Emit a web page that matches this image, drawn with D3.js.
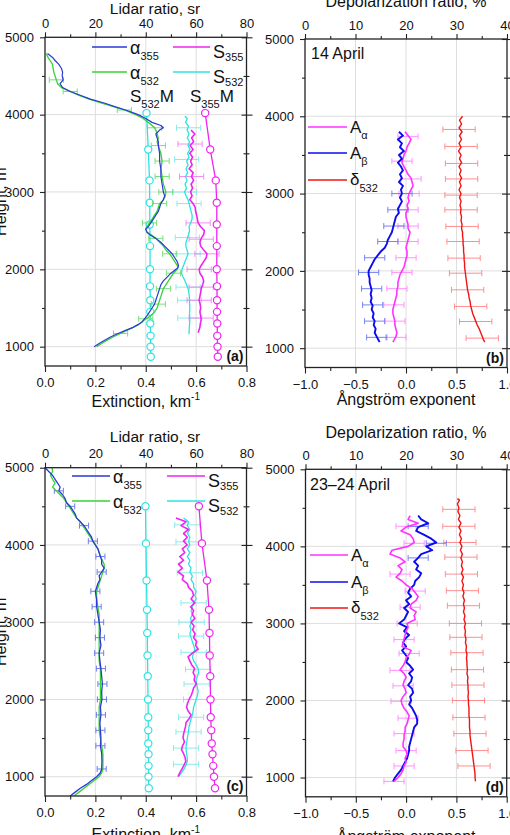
<!DOCTYPE html>
<html><head><meta charset="utf-8">
<script src="https://cdn.jsdelivr.net/npm/d3@7"></script>
<style>
html,body{margin:0;padding:0;background:#fff;overflow:hidden;}
svg{display:block;}
</style></head><body>
<script>
// ---------------- shared axes ----------------
const heightDomain = [750, 5000];
const heightTicks = [1000, 2000, 3000, 4000, 5000];
const heightMinor = [1500, 2500, 3500, 4500];
const extTicks = [0.0, 0.2, 0.4, 0.6, 0.8];
const extMinor = [0.1, 0.3, 0.5, 0.7];
const lrTicks = [0, 20, 40, 60, 80];
const lrMinor = [10, 30, 50, 70];
const angTicks = [-1.0, -0.5, 0.0, 0.5, 1.0];
const angMinor = [-0.75, -0.25, 0.25, 0.75];
const depTicks = [0, 10, 20, 30, 40];
const depMinor = [5, 15, 25, 35];

// ---------------- panel (a): 14 April ----------------
const hAlphaA = [4790,4740,4700,4650,4600,4550,4500,4450,4400,4350,4300,4250,4200,4150,4100,4060,4000,3950,3900,3860,3830,3800,3750,3700,3650,3600,3500,3400,3300,3200,3100,3000,2950,2900,2850,2800,2750,2700,2650,2600,2550,2520,2480,2450,2400,2350,2300,2250,2200,2150,2100,2050,2025,2000,1950,1900,1850,1800,1750,1700,1650,1600,1550,1500,1450,1400,1360,1320,1285,1250,1210,1170,1125,1080,1040,1000];
const alpha355A = [0.01,0.03,0.04,0.055,0.065,0.07,0.068,0.072,0.06,0.07,
 0.10,0.14,0.18,0.235,0.28,0.32,0.37,0.40,0.425,0.46,
 0.47,0.455,0.44,0.445,0.45,0.45,0.455,0.455,0.46,0.46,
 0.465,0.47,0.475,0.47,0.46,0.455,0.45,0.44,0.43,0.42,
 0.41,0.40,0.405,0.415,0.44,0.46,0.475,0.49,0.505,0.515,
 0.525,0.53,0.528,0.52,0.50,0.485,0.47,0.46,0.455,0.45,
 0.445,0.44,0.435,0.425,0.415,0.405,0.395,0.385,0.37,0.35,
 0.32,0.29,0.26,0.235,0.215,0.195];
const alpha532A = [0.005,0.012,0.02,0.03,0.032,0.035,0.04,0.045,0.05,0.065,
 0.10,0.135,0.175,0.225,0.275,0.315,0.36,0.39,0.41,0.425,
 0.435,0.44,0.445,0.45,0.445,0.45,0.46,0.465,0.46,0.465,
 0.47,0.48,0.478,0.47,0.455,0.45,0.445,0.435,0.425,0.415,
 0.405,0.40,0.405,0.42,0.44,0.455,0.47,0.48,0.495,0.505,
 0.515,0.525,0.528,0.525,0.51,0.50,0.49,0.48,0.47,0.465,
 0.46,0.455,0.45,0.445,0.435,0.42,0.40,0.385,0.37,0.35,
 0.325,0.30,0.27,0.245,0.225,0.205];
const hErrAlpha532A = [4450,4300,4060,3830,3600,3400,3200,3000,2850,2600,2400,2200,1950,1750,1550,1360,1170];
const errAlpha532A = 0.028;

const hS355A = [3800,3750,3700,3650,3600,3550,3500,3450,3400,3350,3300,3250,3200,3150,3100,3050,3000,2950,2900,2850,2800,2750,2700,2650,2600,2550,2500,2450,2400,2350,2300,2250,2200,2150,2100,2050,2000,1950,1900,1850,1800,1750,1700,1650,1600,1550,1500,1450,1400,1350,1300,1250,1200,1180];
const S355A = [58,59.5,58.2,59,57.6,58.8,57.5,58.6,57.8,58.4,
 57.2,58.8,58.2,59,58,58.6,57.8,58.4,57.5,58.8,
 59.6,59.8,60.2,60.5,60.8,61.8,63.3,63,62,61.5,
 61.8,63,64.3,64,63,62,61.2,61.5,62.5,63,
 62.6,62,61.8,61.5,61.2,61.6,61.8,61.5,61.8,62,
 61.7,61.5,61,60.8];
const hS532A = [3980,3950,3900,3850,3800,3750,3700,3650,3600,3550,3500,3450,3400,3350,3300,3250,3200,3150,3100,3050,3000,2950,2900,2850,2800,2750,2700,2650,2600,2550,2500,2450,2400,2350,2300,2250,2200,2150,2100,2050,2000,1950,1900,1850,1800,1750,1700,1650,1600,1550,1500,1450,1400,1350,1300,1250,1200,1160];
const S532A = [55.5,56.5,55.8,57,56.4,57.2,56.5,57.4,56.8,57.6,56.6,
 57.2,56.2,56.8,56,56.6,55.8,56.4,55.6,56.2,55.4,
 56,56.8,57.2,57.6,58,58.4,58.4,57.8,57.2,57.4,
 57,56.5,56,55.9,56.4,56.8,56.2,55.6,55,54.4,
 54.2,54.8,55.6,56.2,56.8,57.1,57.3,57.4,57.4,57.5,
 57.4,57.4,57.5,57.4,57.3,57.2,57.2];
const hErrS532A = [3830,3420,3000,2850,2410,2200,1770,1600,1370];
const hErrS355A = [3620,3200,2600,2390,2200,2000,1770,1600,1370];
const errSA = 4.8;
const hModelA = [4020,3550,3150,2860,2580,2300,2000,1780,1600,1450,1300,1140,1000,870];
const S532MA = [40.3,41,41.5,41.6,41.6,41.7,41.7,41.7,41.8,41.8,41.8,41.9,41.9,42];
const S355MA = [63.6,65.6,67.8,68.2,68.2,68.2,68.2,68.3,68.3,68.3,68.4,68.4,68.5,68.6];

// ---------------- panel (b): 14 April ----------------
const hAB = [3800,3750,3700,3650,3600,3550,3500,3450,3400,3350,3300,3250,3200,3150,3100,3050,3000,2950,2900,2850,2800,2750,2700,2650,2600,2550,2500,2450,2400,2350,2300,2250,2200,2150,2100,2050,2000,1950,1900,1850,1800,1750,1700,1650,1600,1550,1500,1450,1400,1350,1300,1250,1200,1150,1100,1080];
const ABetaB = [-0.07,-0.03,-0.08,-0.04,-0.06,-0.02,-0.07,-0.04,-0.08,-0.05,
 -0.03,-0.06,-0.04,-0.07,-0.03,-0.05,-0.04,-0.06,-0.04,-0.06,
 -0.08,-0.07,-0.10,-0.11,-0.12,-0.13,-0.14,-0.16,-0.18,-0.19,
 -0.21,-0.25,-0.28,-0.31,-0.33,-0.35,-0.37,-0.37,-0.36,-0.36,
 -0.35,-0.34,-0.35,-0.34,-0.35,-0.33,-0.34,-0.32,-0.33,-0.31,
 -0.32,-0.30,-0.31,-0.29,-0.27,-0.26];
const AAlphaB = [-0.01,0.02,0.05,0.03,0.01,0.0,-0.02,-0.03,-0.04,-0.02,
 0.0,0.02,0.05,0.06,0.07,0.05,0.03,0.02,0.03,0.01,
 0.02,0.0,0.0,0.01,0.02,0.02,0.04,0.03,0.02,0.01,
 0.0,0.01,0.01,0.0,-0.01,-0.02,-0.04,-0.06,-0.07,-0.08,
 -0.08,-0.09,-0.09,-0.10,-0.11,-0.12,-0.13,-0.13,-0.12,-0.11,
 -0.11,-0.10,-0.09,-0.10,-0.12,-0.13];
const hDepB = [4000,3950,3900,3850,3800,3750,3700,3650,3600,3550,3500,3450,3400,3350,3300,3250,3200,3150,3100,3050,3000,2950,2900,2850,2800,2750,2700,2650,2600,2550,2500,2450,2400,2350,2300,2250,2200,2150,2100,2050,2000,1950,1900,1850,1800,1750,1700,1650,1600,1550,1500,1450,1400,1350,1300,1250,1200,1150,1100,1080];
const DepB = [31.2,30.6,31.0,30.5,31.1,30.6,31.0,30.5,30.9,30.4,
 30.9,30.6,31.0,30.5,30.9,30.6,31.0,30.6,30.9,30.5,
 30.9,30.6,30.9,30.7,30.9,30.8,31.0,30.9,31.1,31.0,
 31.2,31.2,31.3,31.3,31.4,31.4,31.5,31.5,31.6,31.6,
 31.7,31.8,31.9,32.0,32.1,32.2,32.4,32.5,32.7,32.8,
 33.0,33.2,33.5,33.8,34.1,34.5,34.8,35.1,35.4,35.6];
const hErrDepB = [3830,3610,3390,3190,2980,2790,2575,2380,2165,1970,1755,1540,1345,1130];
const errDep = 3.2;
const hErrABetaB = [3000,2790,2580,2380,2170,1980,1770,1560,1350,1140];
const hErrAAlphaB = [3740,3420,3190,3000,2790,2580,2380,2170,1980,1770,1560,1350,1140];
const errAng = 0.1;

// ---------------- panel (c): 23-24 April ----------------
const hAlphaC = [5000,4950,4900,4850,4800,4750,4700,4650,4600,4550,4500,4450,4400,4350,4300,4250,4200,4150,4100,4050,4000,3950,3900,3850,3800,3750,3700,3650,3600,3550,3500,3450,3400,3350,3300,3200,3100,3000,2900,2800,2700,2600,2500,2400,2300,2200,2100,2000,1900,1800,1700,1600,1500,1400,1300,1200,1100,1050,1000,950,900,850,800,750];
const alpha355C = [0.0,0.015,0.03,0.04,0.05,0.06,0.055,0.07,0.08,0.085,
 0.10,0.11,0.12,0.125,0.14,0.155,0.165,0.175,0.185,0.19,
 0.20,0.21,0.215,0.22,0.225,0.225,0.235,0.225,0.215,0.218,
 0.21,0.205,0.20,0.202,0.205,0.205,0.21,0.215,0.22,0.218,
 0.222,0.215,0.218,0.222,0.225,0.228,0.225,0.226,0.22,0.222,
 0.218,0.22,0.222,0.22,0.225,0.226,0.225,0.22,0.205,0.185,
 0.165,0.14,0.12,0.10];
const alpha532C = [0.028,0.03,0.022,0.03,0.04,0.03,0.045,0.06,0.075,0.085,
 0.095,0.105,0.115,0.125,0.14,0.15,0.16,0.17,0.18,0.19,
 0.20,0.21,0.215,0.22,0.228,0.235,0.235,0.23,0.225,0.22,
 0.215,0.21,0.205,0.205,0.205,0.21,0.215,0.215,0.215,0.215,
 0.215,0.215,0.215,0.22,0.22,0.22,0.22,0.22,0.215,0.215,
 0.215,0.215,0.22,0.225,0.23,0.23,0.23,0.225,0.215,0.195,
 0.175,0.155,0.135,0.115];
const hErrAlpha355C = [4700,4500,4250,4050,3850,3650,3400,3200,3000,2800,2600,2400,2200,2000,1800,1600,1400,1100];
const errAlphaC = 0.018;
const hSC = [4350,4300,4250,4200,4150,4100,4050,4000,3950,3900,3850,3800,3750,3700,3650,3600,3550,3500,3450,3400,3350,3300,3250,3200,3150,3100,3050,3000,2950,2900,2850,2800,2750,2700,2650,2600,2550,2500,2450,2400,2350,2300,2250,2200,2150,2100,2050,2000,1950,1900,1850,1800,1750,1700,1650,1600,1550,1500,1450,1400,1350,1300,1250,1200,1150,1100,1050,1000];
const S355C = [52,56,54,57,55,56.5,55,56.5,54.5,55.5,
 53.5,55,53,54.5,52.8,55,54.5,56.5,57,58.5,
 59,58,59.5,57.8,59,58.5,59.5,58,59.2,58.6,
 59.6,59,60.2,59.8,60.8,58.5,56.8,57.5,58.2,59.4,
 58.8,59.5,59.2,60.1,59,58.6,58,57.2,56.6,56.2,
 56.8,58,57.2,56,55.8,55.4,55,54.8,55.4,54.6,
 54.2,55,55.6,55.9,55.2,54.4,53.5,52.8];
const S532C = [55,57,56.5,57.5,56.5,57.5,57,57.5,56.5,57.5,
 56.5,57.5,57,58,57.5,58.5,58,59,59,60,
 59.5,60,59,58.5,58,58.5,57.8,58.2,57.5,58,
 57.5,58,58.5,59,59.5,59,58.5,59,60,60.8,
 61,60.5,60,60.2,60.5,60.8,60.5,60,59.5,59,
 58.8,58.5,58,57.6,57.2,57,56.8,56.5,56.3,56,
 56,56.2,56.5,56.5,56,55.2,54.2,53];
const hErrS532C = [4260,4040,3640,3250,3000,2820,2610,2390,2200,2000,1770,1580,1370,1160];
const errSC = 5;
const hModelC = [4500,4020,3540,3160,2860,2570,2300,2000,1770,1600,1430,1290,1140,1000,850];
const S532MC = [39.9,40.1,40.3,40.5,40.6,40.7,40.8,40.9,41,41,41,41.1,41.1,41.1,41.2];
const S355MC = [61.1,62.3,64.3,65.1,65.3,65.4,65.6,65.7,65.8,66,66.2,66.5,66.8,67.1,67.5];

// ---------------- panel (d): 23-24 April ----------------
const hAD = [4400,4350,4300,4250,4200,4150,4100,4050,4000,3950,3900,3850,3800,3750,3700,3650,3600,3550,3500,3450,3400,3350,3300,3250,3200,3150,3100,3050,3000,2950,2900,2850,2800,2750,2700,2650,2600,2550,2500,2450,2400,2350,2300,2250,2200,2150,2100,2050,2000,1950,1900,1850,1800,1750,1700,1650,1600,1550,1500,1450,1400,1350,1300,1250,1200,1150,1100,1050,1000,950];
const ABetaD = [0.12,0.15,0.22,0.12,0.10,0.18,0.25,0.30,0.20,0.26,
 0.15,0.12,0.08,0.12,0.10,0.15,0.13,0.09,0.08,0.04,
 0.02,0.05,0.0,0.03,-0.02,0.02,0.0,-0.02,-0.07,0.01,
 -0.02,0.03,-0.01,-0.03,0.0,-0.04,-0.01,0.02,0.0,0.04,
 0.07,0.03,0.06,0.05,0.02,0.06,0.07,0.04,0.05,0.03,
 0.06,0.08,0.10,0.11,0.11,0.08,0.07,0.06,0.05,0.04,
 0.03,0.03,0.02,0.01,-0.01,-0.03,-0.05,-0.08,-0.11,-0.13];
const AAlphaD = [0.04,0.02,0.12,0.0,-0.05,0.04,0.07,0.08,0.02,-0.14,
 -0.16,-0.06,-0.01,-0.08,-0.04,-0.06,-0.10,-0.04,0.0,0.06,
 0.09,0.12,0.10,0.05,0.04,0.10,0.08,0.09,0.01,0.02,
 0.0,-0.01,-0.02,-0.03,-0.04,0.05,0.03,0.0,-0.01,-0.03,
 -0.06,-0.02,0.0,-0.02,-0.03,-0.01,0.0,-0.03,-0.05,-0.04,
 -0.02,0.01,0.03,0.02,0.01,-0.01,-0.01,-0.02,-0.02,-0.03,
 -0.03,0.0,0.01,-0.01,0.0,-0.02,-0.03,-0.05,-0.08,-0.12];
const hDepD = [4620,4600,4550,4500,4450,4400,4350,4300,4250,4200,4150,4100,4050,4000,3950,3900,3850,3800,3750,3700,3650,3600,3550,3500,3450,3400,3350,3300,3250,3200,3150,3100,3050,3000,2950,2900,2850,2800,2750,2700,2650,2600,2550,2500,2450,2400,2350,2300,2250,2200,2150,2100,2050,2000,1950,1900,1850,1800,1750,1700,1650,1600,1550,1500,1450,1400,1350,1300,1250,1200,1150,1100,1050,1000,950];
const DepD = [30.2,
 30.6,30.2,30.5,30.3,30.7,30.4,30.9,30.5,30.9,30.6,
 31.0,30.7,31.1,30.8,31.2,30.9,31.2,31.0,31.3,31.0,
 31.4,31.1,31.4,31.2,31.5,31.3,31.6,31.4,31.6,31.4,
 31.7,31.5,31.8,31.6,31.8,31.7,31.9,31.8,32.0,31.9,
 32.1,32.0,32.1,32.1,32.2,32.1,32.3,32.2,32.3,32.3,
 32.4,32.3,32.4,32.4,32.5,32.5,32.5,32.6,32.6,32.6,
 32.7,32.7,32.8,32.9,33.0,33.1,33.2,33.3,33.4,33.5,
 33.6,33.7,33.7,33.8];
const hErrDepD = [4480,4260,4050,3860,3640,3425,3230,3000,2820,2620,2400,2200,2000,1780,1570,1350,1150];
const hErrAAlphaD = [4260,4040,3640,3420,3210,3000,2790,2610,2390,2190,1990,1770,1570,1350,1150,950];
const hErrABetaD = [4260,4040,3850];

// ---------------- drawing ----------------
const FONT = '"Liberation Sans", Arial, Helvetica, sans-serif';
const C = {
  b355: "#2a3ad2", g532: "#36d336", m355: "#f024f0", c532: "#2ee2e2",
  Aa: "#ff33ff", Ab: "#0c0cf0", red: "#f01414",
  eb355: "#5a68e6", eg532: "#66d966", em355: "#f27af2", ec532: "#77e8e8",
  eAa: "#ff80ff", eAb: "#6070f0", ered: "#ff7c7c"
};
const svg = d3.select("body").append("svg").attr("width", 510).attr("height", 835)
  .style("font-family", FONT);

function nearestVal(hs, vs, h) {
  let bi = 0;
  for (let i = 1; i < hs.length; i++) if (Math.abs(hs[i] - h) < Math.abs(hs[bi] - h)) bi = i;
  return vs[bi];
}

function styleAxis(sel) {
  sel.select(".domain").remove();
  sel.selectAll("line").attr("stroke", "#222").attr("stroke-width", 1.1);
  sel.selectAll("text").attr("font-family", FONT).attr("font-size", 13).attr("fill", "#111");
}

function setupPanel(cfg) {
  const x = d3.scaleLinear().domain(cfg.xDom).range([cfg.l, cfg.r]);
  const x2 = d3.scaleLinear().domain(cfg.x2Dom).range([cfg.l, cfg.r]);
  const y = d3.scaleLinear().domain(heightDomain).range([cfg.b, cfg.t]);
  const grid = svg.append("g").attr("stroke", "#dedede").attr("stroke-width", 1);
  grid.selectAll("line.gx").data(cfg.xTicks.slice(1, -1)).join("line").attr("class", "gx")
    .attr("x1", d => x(d)).attr("x2", d => x(d)).attr("y1", cfg.t).attr("y2", cfg.b);
  grid.selectAll("line.gy").data(heightTicks.slice(0, -1)).join("line").attr("class", "gy")
    .attr("y1", d => y(d)).attr("y2", d => y(d)).attr("x1", cfg.l).attr("x2", cfg.r);
  const cid = "clip" + cfg.id;
  svg.append("clipPath").attr("id", cid).append("rect")
    .attr("x", cfg.l).attr("y", cfg.t).attr("width", cfg.r - cfg.l).attr("height", cfg.b - cfg.t);
  const plot = svg.append("g").attr("clip-path", `url(#${cid})`);
  return { cfg, x, x2, y, plot };
}

function drawAxes(P) {
  const { cfg, x, x2, y } = P;
  const none = () => "";
  svg.append("g").attr("transform", `translate(0,${cfg.b})`)
    .call(d3.axisBottom(x).tickValues(cfg.xTicks).tickFormat(d3.format(".1f")).tickSize(6).tickPadding(6)).call(styleAxis);
  svg.append("g").attr("transform", `translate(0,${cfg.b})`)
    .call(d3.axisBottom(x).tickValues(cfg.xMinor).tickFormat(none).tickSize(3.5)).call(styleAxis);
  svg.append("g").attr("transform", `translate(0,${cfg.t})`)
    .call(d3.axisTop(x2).tickValues(cfg.x2Ticks).tickFormat(d3.format("d")).tickSize(5).tickPadding(4.5)).call(styleAxis);
  svg.append("g").attr("transform", `translate(0,${cfg.t})`)
    .call(d3.axisTop(x2).tickValues(cfg.x2Minor).tickFormat(none).tickSize(3)).call(styleAxis);
  svg.append("g").attr("transform", `translate(${cfg.l},0)`)
    .call(d3.axisLeft(y).tickValues(heightTicks).tickFormat(d3.format("d")).tickSize(5).tickPadding(6)).call(styleAxis);
  svg.append("g").attr("transform", `translate(${cfg.l},0)`)
    .call(d3.axisLeft(y).tickValues(heightMinor).tickFormat(none).tickSize(3)).call(styleAxis);
  svg.append("g").attr("transform", `translate(${cfg.r},0)`)
    .call(d3.axisRight(y).tickValues(heightTicks).tickFormat(none).tickSize(6)).call(styleAxis);
  svg.append("g").attr("transform", `translate(${cfg.r},0)`)
    .call(d3.axisLeft(y).tickValues(heightTicks).tickFormat(none).tickSize(5)).call(styleAxis);
  svg.append("g").attr("transform", `translate(${cfg.r},0)`)
    .call(d3.axisRight(y).tickValues(heightMinor).tickFormat(none).tickSize(3)).call(styleAxis);
  svg.append("g").attr("transform", `translate(${cfg.r},0)`)
    .call(d3.axisLeft(y).tickValues(heightMinor).tickFormat(none).tickSize(3)).call(styleAxis);
  svg.append("rect").attr("x", cfg.l).attr("y", cfg.t).attr("width", cfg.r - cfg.l).attr("height", cfg.b - cfg.t)
    .attr("fill", "none").attr("stroke", "#222").attr("stroke-width", 1.3);
  // titles
  svg.append("text").attr("x", cfg.topTitleX).attr("y", cfg.t - cfg.topTitleOff).attr("text-anchor", "middle")
    .attr("font-size", cfg.topTitleSize || 16).attr("fill", "#111").text(cfg.topTitle);
  const bt = svg.append("text").attr("x", (cfg.l + cfg.r) / 2).attr("y", cfg.b + cfg.botTitleOff)
    .attr("text-anchor", "middle").attr("font-size", 16).attr("fill", "#111");
  bt.append("tspan").text(cfg.botTitle);
  if (cfg.botSup) bt.append("tspan").attr("font-size", 10).attr("dy", -7).text(cfg.botSup);
  if (cfg.yTitle) {
    svg.append("text").attr("transform", `translate(6,${(cfg.t + cfg.b) / 2}) rotate(-90)`)
      .attr("text-anchor", "middle").attr("font-size", 16).attr("fill", "#111").text(cfg.yTitle);
  }
  svg.append("text").attr("x", cfg.r - 3).attr("y", cfg.b - 5).attr("text-anchor", "end")
    .attr("font-size", 14).attr("font-weight", "bold").attr("fill", "#111").text(cfg.tag);
}

function drawLine(P, hs, vs, xs, color, w) {
  P.plot.append("path").datum(hs.map((h, i) => [vs[i], h]))
    .attr("d", d3.line().x(d => xs(d[0])).y(d => P.y(d[1])))
    .attr("fill", "none").attr("stroke", color).attr("stroke-width", w).attr("stroke-linejoin", "round");
}
function drawErr(P, hErr, hs, vs, half, xs, color) {
  const data = hErr.map(h => ({ h, v: nearestVal(hs, vs, h) }));
  const g = P.plot.append("g").attr("stroke", color).attr("stroke-width", 1).attr("opacity", 0.85);
  g.selectAll("line.h").data(data).join("line").attr("class", "h")
    .attr("x1", d => xs(d.v - half)).attr("x2", d => xs(d.v + half)).attr("y1", d => P.y(d.h)).attr("y2", d => P.y(d.h));
  g.selectAll("line.l").data(data).join("line").attr("class", "l")
    .attr("x1", d => xs(d.v - half)).attr("x2", d => xs(d.v - half)).attr("y1", d => P.y(d.h) - 3).attr("y2", d => P.y(d.h) + 3);
  g.selectAll("line.r").data(data).join("line").attr("class", "r")
    .attr("x1", d => xs(d.v + half)).attr("x2", d => xs(d.v + half)).attr("y1", d => P.y(d.h) - 3).attr("y2", d => P.y(d.h) + 3);
}
function drawModel(P, hs, vs, xs, color) {
  drawLine(P, hs, vs, xs, color, 1.3);
  P.plot.append("g").selectAll("circle").data(hs.map((h, i) => [vs[i], h])).join("circle")
    .attr("cx", d => xs(d[0])).attr("cy", d => P.y(d[1])).attr("r", 3.6)
    .attr("fill", "#fff").attr("stroke", color).attr("stroke-width", 1.2);
}
function legend(x1, x2, y, color, parts, w) {
  svg.append("line").attr("x1", x1).attr("x2", x2).attr("y1", y).attr("y2", y)
    .attr("stroke", color).attr("stroke-width", w || 1.3);
  const t = svg.append("text").attr("x", x2 + 3).attr("y", y).attr("fill", "#111");
  parts.forEach(p => t.append("tspan").attr("y", y + p[2]).attr("font-size", p[1]).text(p[0]));
}
function label(x, y, parts) {
  const t = svg.append("text").attr("x", x).attr("y", y).attr("fill", "#111");
  parts.forEach(p => t.append("tspan").attr("y", y + p[2]).attr("font-size", p[1]).text(p[0]));
}

// ---------- Panel (a) ----------
const A = setupPanel({ id: "a", l: 45, r: 246.5, t: 37.3, b: 366, xDom: [0, 0.8], x2Dom: [0, 80],
  xTicks: extTicks, xMinor: extMinor, x2Ticks: lrTicks, x2Minor: lrMinor });
drawModel(A, hModelA, S532MA, A.x2, C.c532);
drawErr(A, hErrS532A, hS532A, S532A, errSA, A.x2, C.ec532);
drawErr(A, hErrS355A, hS355A, S355A, errSA, A.x2, C.em355);
drawLine(A, hS532A, S532A, A.x2, C.c532, 1.3);
drawLine(A, hS355A, S355A, A.x2, C.m355, 1.6);
drawModel(A, hModelA, S355MA, A.x2, C.m355);
drawErr(A, hErrAlpha532A, hAlphaA, alpha532A, errAlpha532A, A.x, C.eg532);
drawLine(A, hAlphaA, alpha532A, A.x, C.g532, 1.3);
drawLine(A, hAlphaA, alpha355A, A.x, C.b355, 1.2);
drawAxes(Object.assign(A, { cfg: Object.assign(A.cfg, {
  topTitle: "Lidar ratio, sr", topTitleX: 155, topTitleOff: 23.8, topTitleSize: 15.5, botTitle: "Extinction, km", botSup: "-1",
  botTitleOff: 41, yTitle: "Height, m", tag: "(a)" }) }));
legend(92, 127, 47, C.b355, [["α", 18, 7], ["355", 11, 13]]);
legend(92, 127, 72, C.g532, [["α", 18, 7], ["532", 11, 13]]);
legend(173, 210, 47, C.m355, [["S", 18, 11], ["355", 11, 14]]);
legend(173, 210, 72, C.c532, [["S", 18, 11], ["532", 11, 14]]);
label(130, 101.5, [["S", 17, 0], ["532", 11, 6], ["M", 17, 0]]);
label(190, 101.5, [["S", 17, 0], ["355", 11, 6], ["M", 17, 0]]);

// ---------- Panel (b) ----------
const B = setupPanel({ id: "b", l: 305, r: 507, t: 39, b: 367.5, xDom: [-1, 1], x2Dom: [0, 40],
  xTicks: angTicks, xMinor: angMinor, x2Ticks: depTicks, x2Minor: depMinor });
drawErr(B, hErrDepB, hDepB, DepB, errDep, B.x2, C.ered);
drawErr(B, hErrAAlphaB, hAB, AAlphaB, errAng, B.x, C.eAa);
drawErr(B, hErrABetaB, hAB, ABetaB, errAng, B.x, C.eAb);
drawLine(B, hDepB, DepB, B.x2, C.red, 1.4);
drawLine(B, hAB, AAlphaB, B.x, C.Aa, 1.6);
drawLine(B, hAB, ABetaB, B.x, C.Ab, 1.9);
drawAxes(Object.assign(B, { cfg: Object.assign(B.cfg, {
  topTitle: "Depolarization ratio, %", topTitleX: 406, topTitleOff: 32, botTitle: "Ångström exponent",
  botTitleOff: 37, tag: "(b)" }) }));
svg.append("text").attr("x", 311).attr("y", 58.5).attr("font-size", 16).attr("fill", "#111").text("14 April");
legend(308, 347, 127, C.Aa, [["A", 17, 6], ["α", 11, 11.5]], 1.6);
legend(308, 347, 153, C.Ab, [["A", 17, 6], ["β", 11, 11.5]], 1.6);
legend(308, 347, 180, C.red, [["δ", 17, 5], ["532", 11, 12]], 1.6);

// ---------- Panel (c) ----------
const Cc = setupPanel({ id: "c", l: 45, r: 246.5, t: 467.7, b: 796, xDom: [0, 0.8], x2Dom: [0, 80],
  xTicks: extTicks, xMinor: extMinor, x2Ticks: lrTicks, x2Minor: lrMinor });
drawModel(Cc, hModelC, S532MC, Cc.x2, C.c532);
drawErr(Cc, hErrS532C, hSC, S532C, errSC, Cc.x2, C.ec532);
drawLine(Cc, hSC, S532C, Cc.x2, C.c532, 1.3);
drawLine(Cc, hSC, S355C, Cc.x2, C.m355, 1.6);
drawModel(Cc, hModelC, S355MC, Cc.x2, C.m355);
drawErr(Cc, hErrAlpha355C, hAlphaC, alpha355C, errAlphaC, Cc.x, C.eb355);
drawLine(Cc, hAlphaC, alpha532C, Cc.x, C.g532, 1.3);
drawLine(Cc, hAlphaC, alpha355C, Cc.x, C.b355, 1.3);
drawAxes(Object.assign(Cc, { cfg: Object.assign(Cc.cfg, {
  topTitle: "Lidar ratio, sr", topTitleX: 155, topTitleOff: 25.5, topTitleSize: 15.5, botTitle: "Extinction, km", botSup: "-1",
  botTitleOff: 43.5, yTitle: "Height, m", tag: "(c)" }) }));
legend(72, 110, 476, C.b355, [["α", 18, 7], ["355", 11, 13]]);
legend(72, 110, 501, C.g532, [["α", 18, 7], ["532", 11, 13]]);
legend(167, 205, 476, C.m355, [["S", 18, 11], ["355", 11, 14]]);
legend(167, 205, 501, C.c532, [["S", 18, 11], ["532", 11, 14]]);

// ---------- Panel (d) ----------
const D = setupPanel({ id: "d", l: 305.5, r: 506.7, t: 469.3, b: 796.8, xDom: [-1, 1], x2Dom: [0, 40],
  xTicks: angTicks, xMinor: angMinor, x2Ticks: depTicks, x2Minor: depMinor });
drawErr(D, hErrDepD, hDepD, DepD, errDep, D.x2, C.ered);
drawErr(D, hErrAAlphaD, hAD, AAlphaD, errAng, D.x, C.eAa);
drawErr(D, hErrABetaD, hAD, ABetaD, errAng, D.x, C.eAb);
drawLine(D, hDepD, DepD, D.x2, C.red, 1.4);
drawLine(D, hAD, ABetaD, D.x, C.Ab, 1.9);
drawLine(D, hAD, AAlphaD, D.x, C.Aa, 1.6);
drawAxes(Object.assign(D, { cfg: Object.assign(D.cfg, {
  topTitle: "Depolarization ratio, %", topTitleX: 406, topTitleOff: 31.5, botTitle: "Ångström exponent",
  botTitleOff: 45, tag: "(d)" }) }));
svg.append("text").attr("x", 310).attr("y", 490).attr("font-size", 16).attr("fill", "#111").text("23–24 April");
legend(310, 348, 555, C.Aa, [["A", 17, 6], ["α", 11, 11.5]], 1.6);
legend(310, 348, 582, C.Ab, [["A", 17, 6], ["β", 11, 11.5]], 1.6);
legend(310, 348, 608, C.red, [["δ", 17, 5], ["532", 11, 12]], 1.6);
</script>
</body></html>
